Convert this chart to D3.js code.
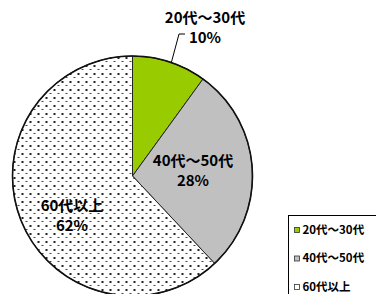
<!doctype html>
<html>
<head>
<meta charset="utf-8">
<script src="https://d3js.org/d3.v7.min.js"></script>
<style>
body { margin: 0; background: #fff; }
text { font-family: "Noto Sans CJK JP", sans-serif; fill: #000; }
</style>
</head>
<body>
<svg width="376" height="294" class="chart"></svg>
<script>
var categories = ["20代～30代", "40代～50代", "60代以上"];
var shares = [10, 28, 62];
var pctLabels = ["10%", "28%", "62%"];
var fills = ["#99cc00", "#c0c0c0", "url(#dots)"];

var svg = d3.select(".chart"),
    cx = 132.5, cy = 176, radius = 120;

// dotted fill like the excel pattern
var defs = svg.append("defs");
var pat = defs.append("pattern")
    .attr("id", "dots")
    .attr("patternUnits", "userSpaceOnUse")
    .attr("width", 8).attr("height", 8);
pat.append("rect").attr("width", 8).attr("height", 8).attr("fill", "#fff");
pat.append("rect").attr("x", 1).attr("y", 1).attr("width", 2).attr("height", 2).attr("fill", "#222");
pat.append("rect").attr("x", 5).attr("y", 5).attr("width", 2).attr("height", 1).attr("fill", "#444");

var pie = d3.pie().sort(null).value(function(d) { return d; });
var arc = d3.arc().innerRadius(0).outerRadius(radius);
var arcs = pie(shares);

var g = svg.append("g")
    .attr("transform", "translate(" + cx + "," + cy + ")");

g.selectAll("path")
    .data(arcs)
    .enter().append("path")
    .attr("d", arc)
    .attr("fill", function(d, i) { return fills[i]; })
    .attr("stroke", "#222")
    .attr("stroke-width", 1);

g.append("circle")
    .attr("r", radius)
    .attr("fill", "none")
    .attr("stroke", "#111")
    .attr("stroke-width", 1.6);

// labels
var labelPos = [[205, 23], [193, 166], [72, 211]];
labelPos.forEach(function(p, i) {
    var t = svg.append("text")
        .attr("x", p[0]).attr("y", p[1])
        .attr("text-anchor", "middle")
        .style("font-size", "15px")
        .style("font-weight", "bold");
    t.append("tspan").attr("x", p[0]).text(categories[i]);
    t.append("tspan").attr("x", p[0]).attr("dy", 20).text(pctLabels[i]);
});

// leader line for the small slice
var mid = (arcs[0].startAngle + arcs[0].endAngle) / 2;
var a = [cx + radius * Math.sin(mid * 1.05), cy - radius * Math.cos(mid * 1.05)];
svg.append("path")
    .attr("d", d3.line()([a, [179, 34], [185, 34]]))
    .attr("fill", "none")
    .attr("stroke", "#000")
    .attr("stroke-width", 1);

// legend
var lg = svg.append("g").attr("transform", "translate(288.5,215.5)");
lg.append("rect")
    .attr("width", 100).attr("height", 100)
    .attr("fill", "#fff")
    .attr("stroke", "#000")
    .attr("stroke-width", 1);

var item = lg.selectAll(".item")
    .data(categories)
    .enter().append("g")
    .attr("transform", function(d, i) { return "translate(6," + (18 + i * 28.5) + ")"; });

item.append("rect")
    .attr("x", 0).attr("y", -6)
    .attr("width", 5).attr("height", 5)
    .attr("fill", function(d, i) { return i == 2 ? "#fff" : fills[i]; })
    .attr("stroke", "#333")
    .attr("stroke-width", 0.8);

item.append("text")
    .attr("x", 8).attr("y", 0)
    .style("font-size", "11.5px")
    .style("font-weight", "bold")
    .text(function(d) { return d; });
</script>
</body>
</html>
